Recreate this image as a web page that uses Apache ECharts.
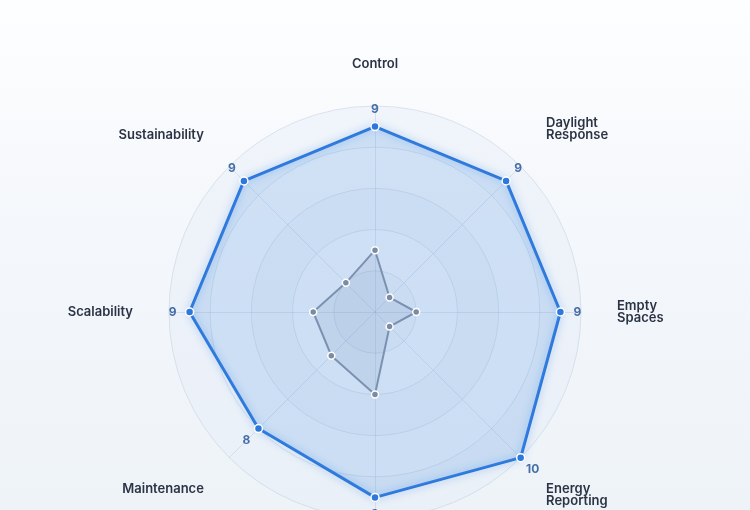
<!DOCTYPE html>
<html lang="en">
<head>
  <meta charset="UTF-8">
  <title>Lighting control scores</title>
  <script src="https://cdn.jsdelivr.net/npm/echarts@6/dist/echarts.min.js"></script>
  <style>
    html, body { margin: 0; padding: 0; }
    body {
      width: 750px;
      height: 510px;
      background: linear-gradient(180deg, #fdfeff 0%, #f4f7fb 45%, #eef3f8 100%);
    }
    #chart { width: 750px; height: 510px; }
  </style>
</head>
<body>
  <div id="chart"></div>
  <script>
    // axes, clockwise from the top
    const indicators = ['Control', 'Daylight Response', 'Empty Spaces', 'Energy Reporting',
      'Installation', 'Maintenance', 'Scalability', 'Sustainability'];
    const smartScores = [9, 9, 9, 10, 9, 8, 9, 9];
    const basicScores = [3, 1, 2, 1, 4, 3, 3, 2];
    const maxScore = 10;

    // radar lays indicators out counter-clockwise, the picture is clockwise
    const order = [0].concat(indicators.map((_, i) => i).slice(1).reverse());
    const pick = arr => order.map(i => arr[i]);

    const center = ['50%', 312];
    const radius = 206;
    const step = 360 / indicators.length;

    // push diagonal names away from the middle line (top / bottom aligned)
    function nameText(name) {
      const txt = name.replace(' ', '\n');
      const i = indicators.indexOf(name);
      const a = i * step;
      const lines = txt.split('\n').length;
      const pad = '\n'.repeat(lines);
      if (a > 0 && a < 90 || a > 270) return txt + pad;      // upper half
      if (a > 90 && a < 270 && a !== 180) return pad + txt;  // lower half
      return txt;
    }

    const chart = echarts.init(document.getElementById('chart'));
    chart.setOption({
      radar: {
        center: center,
        radius: radius,
        startAngle: 90,
        splitNumber: 5,
        shape: 'circle',
        axisNameGap: 36,
        indicator: pick(indicators).map(n => ({ name: n, min: 0, max: maxScore })),
        axisName: {
          color: '#2b3445',
          fontFamily: 'Inter',
          fontSize: 13,
          fontWeight: 600,
          lineHeight: 12,
          formatter: nameText
        },
        splitLine: { lineStyle: { color: 'rgba(170,188,210,0.35)', width: 1 } },
        splitArea: { show: true, areaStyle: { color: ['rgba(226,236,247,0.35)', 'rgba(240,245,251,0.35)'] } },
        axisLine: { lineStyle: { color: 'rgba(170,188,210,0.35)' } }
      },
      polar: { center: center, radius: radius },
      angleAxis: { type: 'value', min: 0, max: 360, startAngle: 90, clockwise: true, show: false },
      radiusAxis: { type: 'value', min: 0, max: maxScore, show: false },
      series: [
        {
          type: 'radar',
          z: 2,
          symbol: 'circle',
          symbolSize: 8,
          data: [{ name: 'Smart', value: pick(smartScores) }],
          itemStyle: { color: '#2c78dc', borderColor: '#ffffff', borderWidth: 1.5 },
          lineStyle: { color: '#2c78dc', width: 3, shadowBlur: 8, shadowColor: 'rgba(44,120,220,0.45)' },
          areaStyle: { color: 'rgba(70,140,220,0.3)' }
        },
        {
          type: 'radar',
          z: 3,
          symbol: 'circle',
          symbolSize: 7,
          data: [{ name: 'Basic', value: pick(basicScores) }],
          itemStyle: { color: '#7b8ba3', borderColor: '#ffffff', borderWidth: 1.5 },
          lineStyle: { color: '#7d92b0', width: 2 },
          areaStyle: { color: 'rgba(105,135,180,0.2)' }
        },
        {
          type: 'scatter',
          coordinateSystem: 'polar',
          silent: true,
          z: 4,
          symbolSize: 1,
          itemStyle: { color: 'rgba(0,0,0,0)' },
          data: smartScores.map((v, i) => {
            const rad = i * step * Math.PI / 180;
            return { value: [v, i * step], label: { offset: [17 * Math.sin(rad), -17 * Math.cos(rad)] } };
          }),
          label: {
            show: true,
            position: 'inside',
            formatter: p => p.value[0],
            color: '#1c4d94',
            textBorderWidth: 0,
            fontFamily: 'Inter',
            fontWeight: 'bold',
            fontSize: 12
          }
        }
      ]
    });
  </script>
</body>
</html>
